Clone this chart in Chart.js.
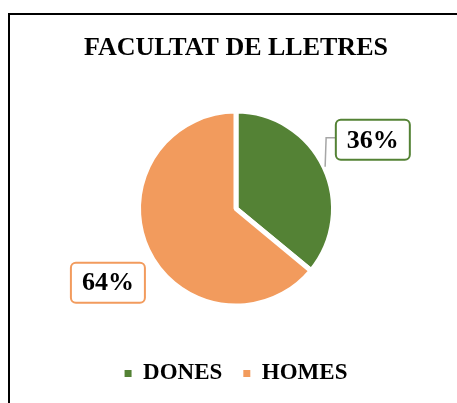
<!DOCTYPE html>
<html><head><meta charset="utf-8">
<script src="https://cdn.jsdelivr.net/npm/chart.js@4/dist/chart.umd.min.js"></script>
<style>
html,body{margin:0;padding:0;background:#fff;}
#wrap{position:relative;width:457px;height:403px;}
#frame{position:absolute;left:8px;top:13px;right:0;bottom:0;border-top:2px solid #000;border-left:2px solid #000;pointer-events:none;}
</style></head><body>
<div id="wrap"><canvas id="c" width="457" height="403"></canvas><div id="frame"></div></div>
<script>
const titleText = 'FACULTAT DE LLETRES';
const categories = ['DONES', 'HOMES'];
const values = [36, 64];
const valueLabels = ['36%', '64%'];
const colors = ['#548235', '#F29B5D'];

const SERIF = '"Liberation Serif", "DejaVu Serif", serif';
// label placement relative to slice mid-angle (distance as multiple of radius, plus fine offset)
const labelPlacement = [
  {dist: 1.585, dx: -3, dy: -3, leader: true},
  {dist: 1.52, dx: 6, dy: 11, leader: false}
];

const boxLabels = {
  id: 'boxLabels',
  afterDatasetsDraw(chart) {
    const ctx = chart.ctx;
    const meta = chart.getDatasetMeta(0);
    meta.data.forEach((arc, i) => {
      const p = arc.getProps(['x', 'y', 'startAngle', 'endAngle', 'outerRadius'], true);
      const mid = (p.startAngle + p.endAngle) / 2;
      const cfg = labelPlacement[i];
      const bx = p.x + Math.cos(mid) * p.outerRadius * cfg.dist + cfg.dx;
      const by = p.y + Math.sin(mid) * p.outerRadius * cfg.dist + cfg.dy;
      ctx.save();
      ctx.font = 'bold 26px ' + SERIF;
      const tw = ctx.measureText(valueLabels[i]).width;
      const w = tw + 22, h = 40;
      const left = bx - w / 2, top = by - h / 2;
      if (cfg.leader) {
        const ex = p.x + Math.cos(mid) * (p.outerRadius + 1);
        const ey = p.y + Math.sin(mid) * (p.outerRadius + 1);
        ctx.beginPath();
        ctx.moveTo(left, by - 2);
        ctx.lineTo(ex + 1, by - 2);
        ctx.lineTo(ex, ey);
        ctx.strokeStyle = '#A6A6A6';
        ctx.lineWidth = 1.5;
        ctx.stroke();
      }
      ctx.beginPath();
      ctx.roundRect(left, top, w, h, 5);
      ctx.fillStyle = '#fff';
      ctx.fill();
      ctx.lineWidth = 2;
      ctx.strokeStyle = colors[i];
      ctx.stroke();
      ctx.fillStyle = '#000';
      ctx.textAlign = 'center';
      ctx.textBaseline = 'middle';
      ctx.fillText(valueLabels[i], bx, by + 1);
      ctx.restore();
    });
  }
};

new Chart(document.getElementById('c'), {
  type: 'pie',
  data: {
    labels: categories,
    datasets: [{
      data: values,
      backgroundColor: colors,
      borderColor: '#ffffff',
      borderWidth: 5,
      radius: 97.5
    }]
  },
  options: {
    responsive: false,
    animation: false,
    events: [],
    layout: {padding: {top: 0, bottom: 8, left: 15, right: 0}},
    plugins: {
      title: {
        display: true,
        text: titleText,
        color: '#000',
        font: {family: SERIF, size: 26, weight: 'bold'},
        padding: {top: 33, bottom: 12}
      },
      legend: {
        position: 'bottom',
        labels: {
          color: '#000',
          font: {family: SERIF, size: 23, weight: 'bold'},
          boxWidth: 7,
          boxHeight: 7,
          padding: 21,
          generateLabels(chart) {
            return chart.data.labels.map((l, i) => ({
              text: l,
              fillStyle: colors[i],
              strokeStyle: colors[i],
              lineWidth: 0,
              fontColor: '#000',
              hidden: false,
              index: i
            }));
          }
        }
      },
      tooltip: {enabled: false}
    }
  },
  plugins: [boxLabels]
});
</script>
</body></html>
